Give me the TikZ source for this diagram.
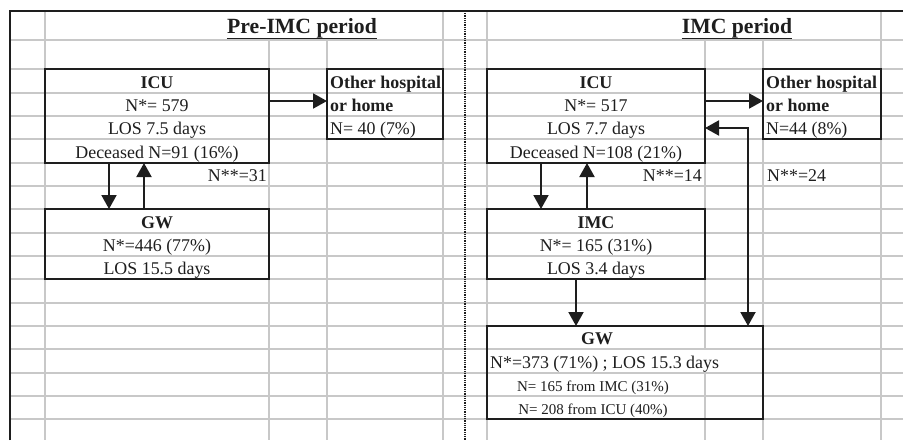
\documentclass[tikz,border=0pt]{standalone}
\usepackage{fontspec}
\setmainfont{Liberation Serif}
\usetikzlibrary{arrows.meta}
\definecolor{gridc}{RGB}{200,200,200}
\definecolor{inkc}{RGB}{30,30,30}
\tikzset{
  gridline/.style={draw=gridc, line width=1.4pt},
  framel/.style={draw=inkc, line width=2.3pt},
  box/.style={draw=inkc, line width=2pt, inner sep=0pt, outer sep=0pt},
  txt/.style={inner sep=0pt, anchor=base, text=inkc, font=\fontsize{17.9}{20}\selectfont},
  txtl/.style={txt, anchor=base west},
  txtr/.style={txt, anchor=base east},
  smalltxt/.style={txt, font=\fontsize{15}{17}\selectfont},
  bold/.style={txt, font=\fontsize{17.9}{20}\selectfont\bfseries},
  boldl/.style={bold, anchor=base west},
  titletxt/.style={inner sep=0pt, anchor=base, text=inkc, font=\fontsize{21.7}{24}\selectfont\bfseries},
  arr/.style={draw=inkc, line width=2pt, -{Triangle[length=14pt,width=15pt]}},
  arrboth/.style={draw=inkc, line width=2pt, {Triangle[length=14pt,width=15pt]}-{Triangle[length=14pt,width=15pt]}},
}
\begin{document}
\begin{tikzpicture}[x=1pt,y=-1pt]
\useasboundingbox (0,0) rectangle (903,440);
% grid
\foreach \yy in {40,69,93,116,139,163,186,209,233,256,279,303,326,349,373,396,419}
  \draw[gridline] (10,\yy) -- (903,\yy);
\foreach \xx in {45,443,487,881}
  \draw[gridline] (\xx,11) -- (\xx,440);
\foreach \xx in {269,327,763}
  \draw[gridline] (\xx,40) -- (\xx,440);
\draw[gridline] (705,40) -- (705,349);
\draw[gridline] (705,373) -- (705,440);
% frame and divider
\draw[framel] (10,440) -- (10,11) -- (903,11);
\draw[draw=inkc, line width=1.5pt, dash pattern=on 1pt off 0.8pt] (465,11) -- (465,440);

% titles
\node[titletxt] (t1) at (302,33) {Pre-IMC period};
\draw[draw=inkc, line width=1.6pt] ([yshift=-5.5pt]t1.base west) -- ([yshift=-5.5pt]t1.base east);
\node[titletxt] (t2) at (737,33) {IMC period};
\draw[draw=inkc, line width=1.6pt] ([yshift=-5.5pt]t2.base west) -- ([yshift=-5.5pt]t2.base east);

% ---------- Pre-IMC boxes ----------
\node[box, minimum width=224pt, minimum height=94pt] (icuL) at (157,116) {};
\node[bold] (icuLa) at (157,88) {ICU};
\node[txt] (icuLb) at (157,111) {N*= 579};
\node[txt] (icuLc) at (157,134) {LOS 7.5 days};
\node[txt] (icuLd) at (157,158) {Deceased N=91 (16\%)};

\node[box, minimum width=116pt, minimum height=70pt] (othL) at (385,104) {};
\node[boldl] (othLa) at (330,88) {Other hospital};
\node[boldl] (othLb) at (330,111) {or home};
\node[txtl] (othLc) at (330,134) {N= 40 (7\%)};

\node[box, minimum width=224pt, minimum height=70pt] (gwL) at (157,244) {};
\node[bold] (gwLa) at (157,228) {GW};
\node[txt] (gwLb) at (157,251) {N*=446 (77\%)};
\node[txt] (gwLc) at (157,274) {LOS 15.5 days};

\node[txtr] (nL31) at (267,181) {N**=31};

\draw[arr] ([yshift=15pt]icuL.east) -- ([yshift=15pt]icuL.east -| othL.west);
\draw[arr] ([xshift=64pt]icuL.south west) -- ([xshift=64pt]icuL.south west |- gwL.north);
\draw[arr] ([xshift=99pt]gwL.north west) -- ([xshift=99pt]gwL.north west |- icuL.south);

% ---------- IMC boxes ----------
\node[box, minimum width=218pt, minimum height=94pt] (icuR) at (596,116) {};
\node[bold] (icuRa) at (596,88) {ICU};
\node[txt] (icuRb) at (596,111) {N*= 517};
\node[txt] (icuRc) at (596,134) {LOS 7.7 days};
\node[txt] (icuRd) at (596,158) {Deceased N=108 (21\%)};

\node[box, minimum width=118pt, minimum height=70pt] (othR) at (822,104) {};
\node[boldl] (othRa) at (766,88) {Other hospital};
\node[boldl] (othRb) at (766,111) {or home};
\node[txtl] (othRc) at (766,134) {N=44 (8\%)};

\node[box, minimum width=218pt, minimum height=70pt] (imc) at (596,244) {};
\node[bold] (imca) at (596,228) {IMC};
\node[txt] (imcb) at (596,251) {N*= 165 (31\%)};
\node[txt] (imcc) at (596,274) {LOS 3.4 days};

\node[box, minimum width=276pt, minimum height=93pt] (gwR) at (625,372.5) {};
\node[bold] (gwRa) at (597,344) {GW};
\node[txtl] (gwRb) at (490,368) {N*=373 (71\%) ; LOS 15.3 days};
\node[smalltxt] (gwRc) at (593,391) {N= 165 from IMC (31\%)};
\node[smalltxt] (gwRd) at (593,414) {N= 208 from ICU (40\%)};

\node[txtr] (nR14) at (702,181) {N**=14};
\node[txtl] (nR24) at (767,181) {N**=24};

\coordinate (bend) at (748,128);
\draw[arr] ([yshift=15pt]icuR.east) -- ([yshift=15pt]icuR.east -| othR.west);
\draw[arr] ([xshift=54pt]icuR.south west) -- ([xshift=54pt]icuR.south west |- imc.north);
\draw[arr] ([xshift=100pt]imc.north west) -- ([xshift=100pt]imc.north west |- icuR.south);
\draw[arr] ([xshift=89pt]imc.south west) -- ([xshift=89pt]imc.south west |- gwR.north);
\draw[arrboth] (bend -| icuR.east) -- (bend) -- (bend |- gwR.north);
\end{tikzpicture}
\end{document}
